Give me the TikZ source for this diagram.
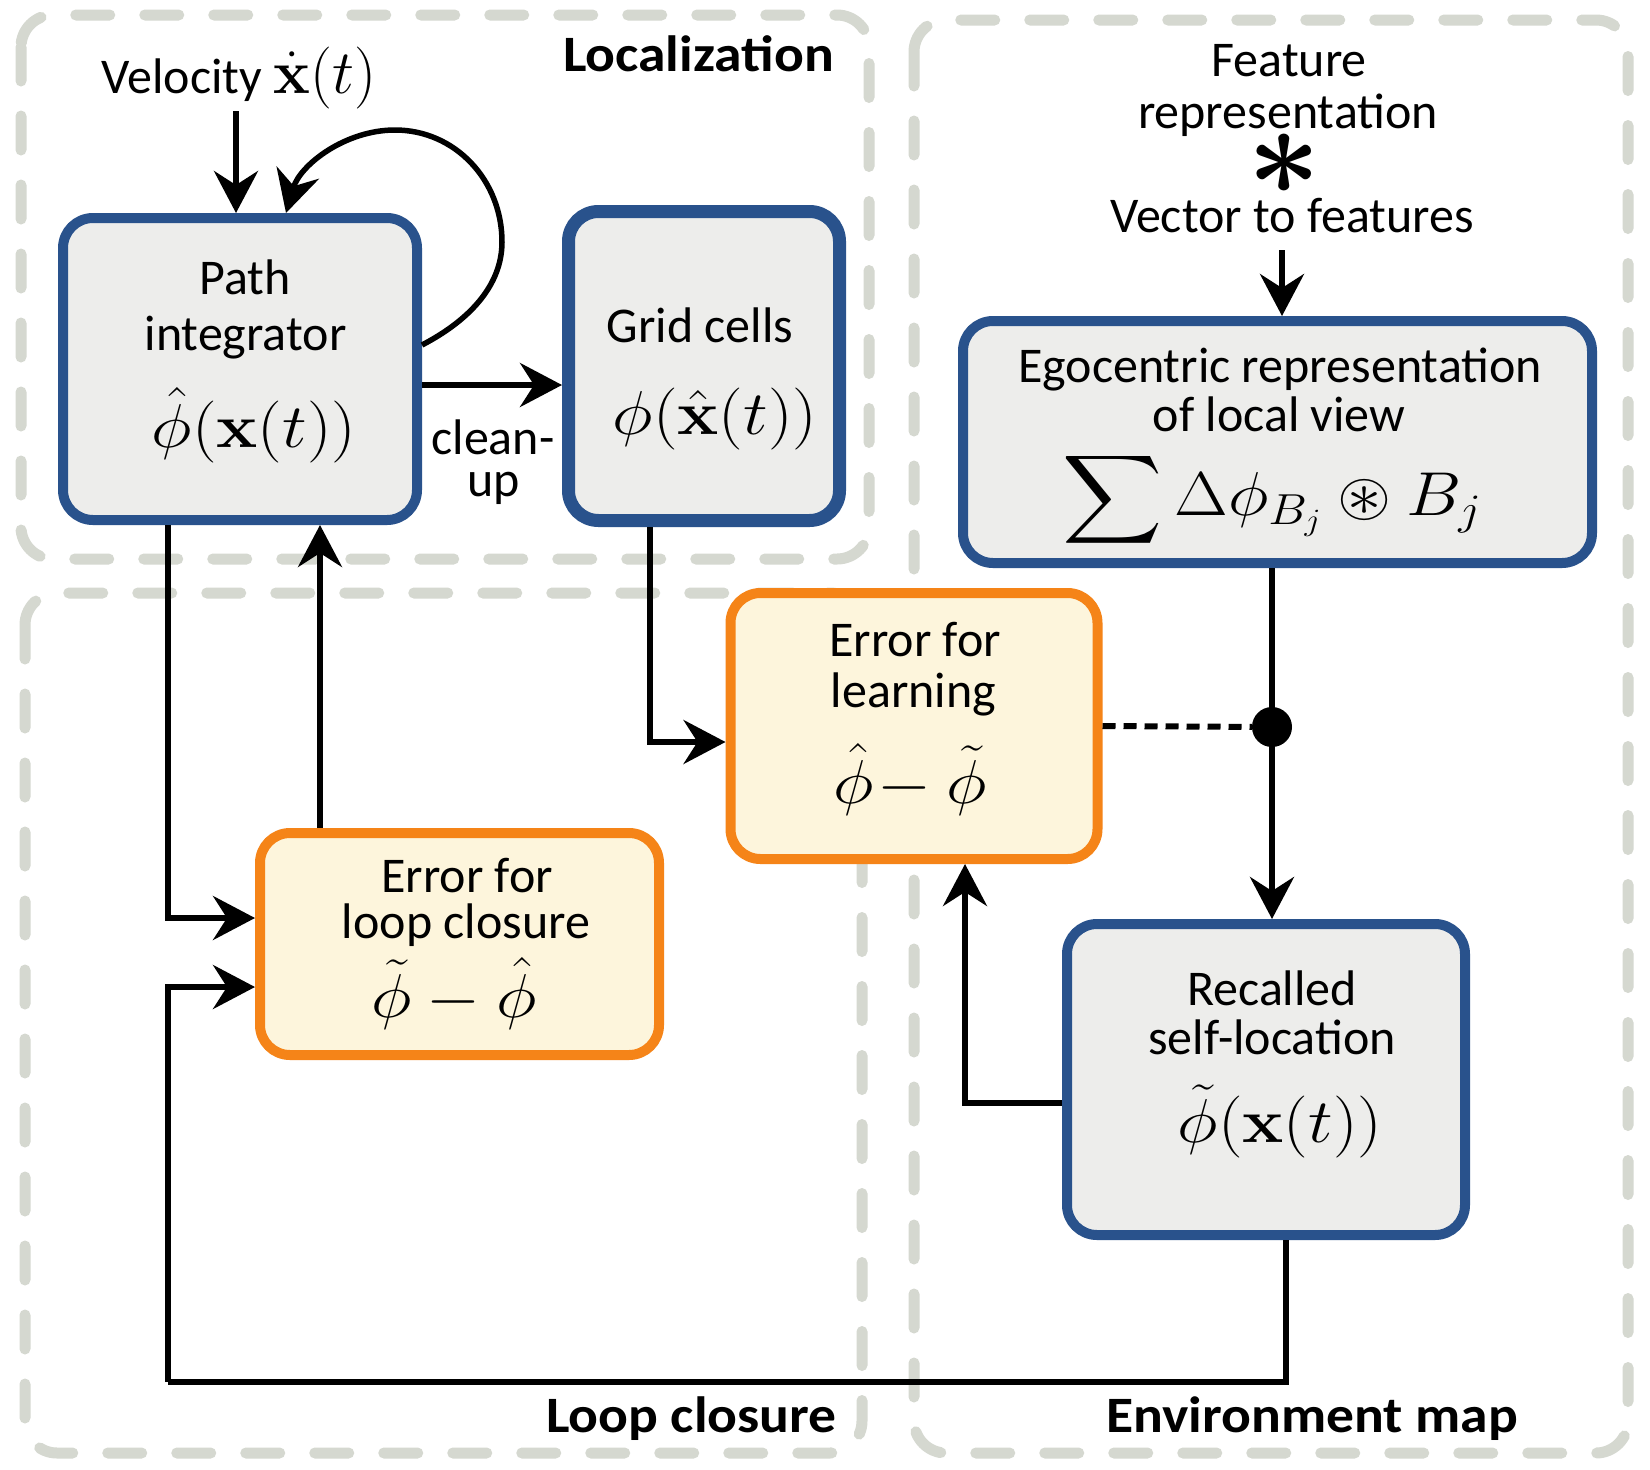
\RequirePackage{fix-cm}
\documentclass[tikz,border=0pt]{standalone}
\usepackage{amsmath,amssymb,bm,graphicx}
\DeclareFontFamily{U}{msa}{}
\DeclareFontShape{U}{msa}{m}{n}{<->msam10}{}
\usepackage[no-math]{fontspec}
\setmainfont{Carlito}
\usetikzlibrary{arrows.meta}
\definecolor{nodeblue}{RGB}{41,82,140}
\definecolor{nodeorange}{RGB}{245,132,24}
\definecolor{boxgray}{RGB}{237,237,235}
\definecolor{boxyellow}{RGB}{253,245,220}
\definecolor{regiongray}{RGB}{213,216,208}
\newcommand\msz{\fontsize{62}{62}\selectfont}
\newcommand\mxs[1]{\scalebox{1.12}[1]{#1}}
\begin{document}
\begin{tikzpicture}[x=1pt,y=-1pt,
  region/.style={draw=regiongray, line width=11pt, line cap=round, dash pattern=on 34pt off 35pt, rounded corners=32pt},
  bbox/.style={draw=nodeblue, fill=boxgray, line width=10pt, rounded corners=30pt, inner sep=0pt, outer sep=5pt},
  obox/.style={draw=nodeorange, fill=boxyellow, line width=10pt, rounded corners=30pt, inner sep=0pt, outer sep=5pt},
  txt/.style={font=\fontsize{50}{55}\selectfont, inner sep=0pt, anchor=base},
  mth/.style={font=\msz, inner sep=0pt, anchor=base},
  title/.style={font=\fontsize{51}{55}\selectfont\bfseries\addfontfeatures{FakeStretch=1.09}, inner sep=0pt, anchor=base east},
  arr/.style={line width=5.5pt, -{Stealth[length=42pt,width=44pt,inset=14pt]}},
  con/.style={line width=5.5pt},
  dline/.style={line width=6pt, dash pattern=on 13pt off 8pt}
]
\useasboundingbox (0,0) rectangle (1650,1470);
\fill[white] (0,0) rectangle (1650,1470);

% regions
\draw[region] (21,15) rectangle (869,559);
\draw[region] (25,593) rectangle (862,1453);
\draw[region] (914,20) rectangle (1628,1453);
\node[title] (tloc) at (834,71) {Localization};
\node[title] (tloop) at (837,1432) {Loop closure};
\node[title] (tenv) at (1518,1432) {Environment map};

% boxes
\node[bbox, minimum width=354pt, minimum height=302pt] (pi) at (240,369) {};
\node[bbox, line width=13pt, outer sep=6.5pt, minimum width=271pt, minimum height=309pt] (grid) at (704,366) {};
\node[bbox, minimum width=629pt, minimum height=242pt] (ego) at (1277.5,442) {};
\node[obox, minimum width=367pt, minimum height=266pt] (learn) at (914,726) {};
\node[obox, minimum width=399pt, minimum height=222pt] (loop) at (459.5,944) {};
\node[bbox, minimum width=398pt, minimum height=311pt] (rec) at (1266,1079.5) {};

% texts
\node[txt] (vel) at (239,93) {Velocity {\msz$\dot{\mathbf{x}}(t)$}};
\node[txt] (pi1) at (245,294) {Path};
\node[txt] (pi2) at (245.5,350) {integrator};
\node[mth] (pi3) at (254,447) {\mxs{$\hat{\phi}(\mathbf{x}(t))$}};
\node[txt] (gr1) at (700,342) {Grid cells};
\node[mth] (gr2) at (715,434) {\mxs{$\phi(\hat{\mathbf{x}}(t))$}};
\node[txt] (cl1) at (493,454) {clean-};
\node[txt] (cl2) at (494,496) {up};
\node[txt] (fe1) at (1289,76) {Feature};
\node[txt] (fe2) at (1288,128) {representation};
\node[inner sep=0pt, font=\fontsize{128}{128}\selectfont] (ast) at (1284,164) {$\bm{\ast}$};
\node[txt] (vec) at (1292,232) {Vector to features};
\node[txt] (eg1) at (1280,382) {Egocentric representation};
\node[txt] (eg2) at (1279,431) {of local view};
\node[mth] (eg3) at (1272,515) {\mxs{$\displaystyle\sum\Delta\phi_{B_j}\circledast B_j$}};
\node[txt] (le1) at (915,656) {Error for};
\node[txt] (le2) at (913.5,707) {learning};
\node[mth] (le3) at (910,803) {\mxs{$\hat{\phi}\mkern-3mu-\tilde{\phi}$}};
\node[txt] (lo1) at (467,892) {Error for};
\node[txt] (lo2) at (466,938) {loop closure};
\node[mth] (lo3) at (454,1017) {\mxs{$\tilde{\phi}-\hat{\phi}$}};
\node[txt] (re1) at (1272,1005) {Recalled};
\node[txt] (re2) at (1272,1054) {self-location};
\node[mth] (re3) at (1280,1142) {\mxs{$\tilde{\phi}(\mathbf{x}(t))$}};

% helper coordinates
\coordinate (cv) at (236,0);
\coordinate (cfa) at (1282,0);
\coordinate (c168) at (168,0);
\coordinate (c320) at (320,0);
\coordinate (c650) at (650,0);
\coordinate (c965) at (965,0);
\coordinate (br) at (1286,1382);
\coordinate (bl) at (168,1382);
\node[circle, fill=black, minimum size=40pt, inner sep=0pt] (dot) at (1272,727) {};

% connectors
\draw[arr] ([yshift=-18pt]vel.base -| cv) -- (pi.north -| cv);
\draw[arr] ([yshift=24pt]pi.east) .. controls (470,320) and (502,285) .. (502,242)
  .. controls (502,180) and (455,130) .. (395,130)
  .. controls (345,130) and (300,165) .. ([xshift=46pt]pi.north);
\draw[arr] ([yshift=-16pt]pi.east) -- ([yshift=-16pt]pi.east -| grid.west);
\draw[arr] (pi.south -| c168) |- ([yshift=26pt]loop.west);
\draw[arr] (loop.north -| c320) -- (pi.south -| c320);
\draw[arr] (grid.south -| c650) |- ([yshift=-16pt]learn.west);
\draw[arr] ([yshift=-18pt]vec.base -| cfa) -- (ego.north -| cfa);
\draw[arr] (ego.south -| dot) -- (rec.north -| dot);
\draw[dline] (learn.east) -- (dot);
\draw[arr] ([yshift=-23.5pt]rec.west) -| (learn.south -| c965);
\draw[con, line width=6.5pt] (rec.south -| br) -- (br) -- (bl);
\draw[arr] (bl) |- ([yshift=-43pt]loop.west);
\end{tikzpicture}
\end{document}
